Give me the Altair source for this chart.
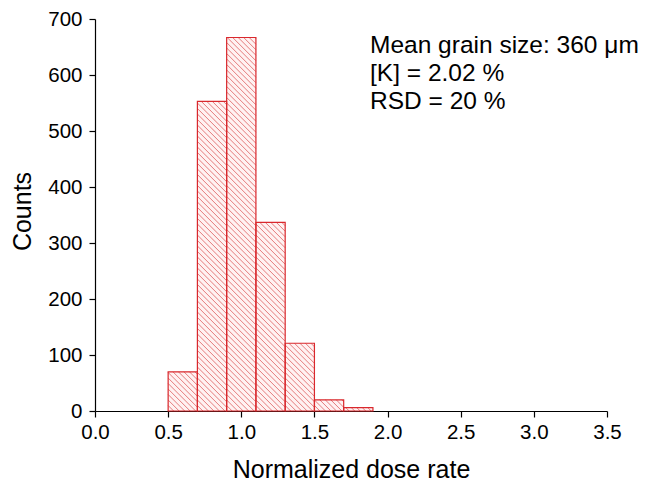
import altair as alt
import pandas as pd

# ---- data ----
bin_start = [0.5, 0.7, 0.9, 1.1, 1.3, 1.5, 1.7]
bin_end = [0.7, 0.9, 1.1, 1.3, 1.5, 1.7, 1.9]
counts = [70, 553, 667, 337, 121, 20, 6]

x_major = [0.0, 0.5, 1.0, 1.5, 2.0, 2.5, 3.0, 3.5]
x_minor = [0.25, 0.75, 1.25, 1.75, 2.25, 2.75, 3.25]
y_major = [0, 100, 200, 300, 400, 500, 600, 700]
y_minor = [50, 150, 250, 350, 450, 550, 650]

annotation_lines = ["Mean grain size: 360 \u03bcm", "[K] = 2.02 %", "RSD = 20 %"]
annotation_x = [1.88]
annotation_y = [639]

# ---- layout / style ----
W, H = 512, 392
X_MAX, Y_MAX = 3.5, 700
FONT = "Liberation Sans"
RED = "#d9282d"
HATCH = "#d94848"

px_per_x = W / X_MAX
px_per_y = H / Y_MAX
slope = px_per_x / px_per_y          # counts per dose unit for a 45 deg line
spacing = 5.5 / px_per_x              # horizontal hatch spacing in dose units

bars = pd.DataFrame({"x0": bin_start, "x1": bin_end, "count": counts})
ann = pd.DataFrame({"x": annotation_x, "y": annotation_y, "t": [annotation_lines]})

xscale = alt.Scale(domain=[0, X_MAX], nice=False, zero=False)
yscale = alt.Scale(domain=[0, Y_MAX], nice=False)

x_axis = alt.Axis(
    values=sorted(x_major + x_minor),
    labelExpr="datum.value % 0.5 === 0 ? format(datum.value, '.1f') : ''",
    tickSize={"condition": {"test": "datum.value % 0.5 === 0", "value": 6}, "value": 3},
    title="Normalized dose rate",
    titleY=66, titleBaseline="alphabetic",
    labelPadding=5, grid=False, labelFlush=False, labelOverlap=False,
)
y_axis = alt.Axis(
    values=sorted(y_major + y_minor),
    labelExpr="datum.value % 100 === 0 ? format(datum.value, 'd') : ''",
    tickSize={"condition": {"test": "datum.value % 100 === 0", "value": 6}, "value": 3},
    title="Counts",
    titleX=-65, titleY=H / 2 - 4, titleBaseline="alphabetic", titleAlign="center",
    labelPadding=7, grid=False, labelFlush=False, labelOverlap=False,
)

base = alt.Chart(bars)

fill = base.mark_rect(fill="#fff2f2", stroke=None).encode(
    x=alt.X("x0:Q", scale=xscale, axis=x_axis),
    x2="x1:Q",
    y=alt.Y("count:Q", scale=yscale, axis=y_axis),
    y2=alt.datum(0),
)

hatch = base.transform_calculate(
    k="sequence(0, 130)"
).transform_flatten(["k"]).transform_calculate(
    a=f"datum.x0 + datum.k * {spacing}"
).transform_calculate(
    xs=f"max(datum.x0, datum.a - datum.count / {slope})",
    xe="min(datum.x1, datum.a)",
).transform_filter("datum.xe > datum.xs").transform_calculate(
    ys=f"{slope} * (datum.a - datum.xs)",
    ye=f"{slope} * (datum.a - datum.xe)",
).mark_rule(color=HATCH, strokeWidth=1, opacity=0.7).encode(
    x=alt.X("xs:Q", scale=xscale),
    x2="xe:Q",
    y=alt.Y("ys:Q", scale=yscale),
    y2="ye:Q",
)

outline = base.mark_rect(fill=None, stroke=RED, strokeWidth=1.2).encode(
    x=alt.X("x0:Q", scale=xscale),
    x2="x1:Q",
    y=alt.Y("count:Q", scale=yscale),
    y2=alt.datum(0),
)

text = alt.Chart(ann).mark_text(
    align="left", baseline="alphabetic", font=FONT, fontSize=24.5,
    lineHeight=28, color="black",
).encode(
    x=alt.X("x:Q", scale=xscale),
    y=alt.Y("y:Q", scale=yscale),
    text="t",
)

chart = alt.layer(fill, hatch, outline, text).properties(
    width=W, height=H,
    autosize=alt.AutoSizeParams(type="none"),
    padding={"left": 95, "top": 19, "right": 50, "bottom": 74},
    background="white",
).configure_view(stroke=None).configure_axis(
    labelFont=FONT, labelFontSize=20.5, labelColor="black",
    titleFont=FONT, titleFontSize=25, titleFontWeight="normal", titleColor="black",
    domainColor="black", tickColor="black", domainWidth=1.2, tickWidth=1.2,
)

chart.save("out.html", embed_options={"renderer": "svg", "actions": False})
